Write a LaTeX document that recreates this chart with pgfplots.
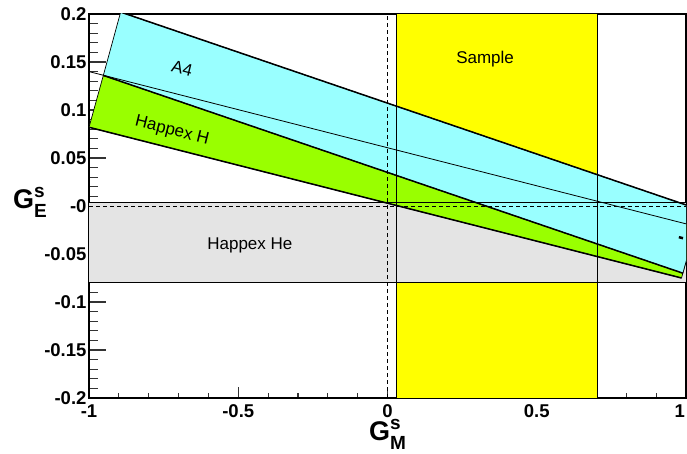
\documentclass[border=0pt]{standalone}
\usepackage{fontspec}
\setmainfont{Liberation Sans}
\usepackage{pgfplots}
\pgfplotsset{compat=1.18}

\definecolor{bandcyan}{RGB}{153,255,255}
\definecolor{bandgreen}{RGB}{153,255,0}
\definecolor{bandgray}{RGB}{228,228,228}
\definecolor{sampleyellow}{RGB}{255,255,0}

\begin{document}
\begin{tikzpicture}
\path[use as bounding box] (-89pt,-56pt) rectangle (598pt,398pt);
\begin{axis}[
  at={(0,0)}, anchor=south west,
  scale only axis, width=597pt, height=384pt,
  xmin=-1, xmax=1, ymin=-0.2, ymax=0.2,
  axis line style={line width=1.3pt},
  xtick={-1,-0.5,0,0.5,1},
  xticklabels={-1,-0.5,0,0.5,\makebox[0pt][r]{1\hspace{1pt}}},
  ytick={-0.2,-0.15,-0.1,-0.05,0,0.05,0.1,0.15,0.2},
  yticklabels={-0.2,-0.15,-0.1,-0.05,-0,0.05,0.1,0.15,0.2},
  minor x tick num=4, minor y tick num=4,
  tick align=inside, tick pos=left,
  major tick length=17pt, minor tick length=9pt,
  xtick style={/pgfplots/major tick length=11pt,/pgfplots/minor tick length=5pt},
  tick style={line width=1.1pt, black!80},
  ticklabel style={font=\fontsize{18.5}{18.5}\selectfont\bfseries},
  xticklabel style={yshift=-3pt},
  yticklabel style={xshift=1pt},
  clip=true,
]
% Sample region
\addplot[fill=sampleyellow, draw=none] coordinates {(0.03,-0.2) (0.705,-0.2) (0.705,0.2) (0.03,0.2)} -- cycle;
% Happex He band
\addplot[fill=bandgray, draw=none] coordinates {(-1,-0.080) (1,-0.080) (1,0.0035) (-1,0.0035)} -- cycle;
% Happex H band
\addplot[fill=bandgreen, draw=black, line width=0.7pt] coordinates {(-1.0,0.082) (-0.952,0.136) (1.0325,-0.021) (0.985,-0.075)} -- cycle;
% A4 band
\addplot[fill=bandcyan, draw=black, line width=0.7pt] coordinates {(-0.952,0.136) (-0.894,0.202) (1.048,-0.004) (0.9895,-0.070)} -- cycle;
% band edges
\addplot[black, line width=1.5pt] coordinates {(-0.894,0.202) (1.048,-0.004)};
\addplot[black, line width=1.5pt] coordinates {(-0.952,0.136) (0.9895,-0.070)};
\addplot[black, line width=1.5pt] coordinates {(-1.0,0.082) (0.985,-0.075)};
\addplot[black, line width=0.8pt] coordinates {(-1,0.1400) (1,-0.0186)};
% Happex He edges
\addplot[black, line width=1.1pt] coordinates {(-1,0.0035) (1,0.0035)};
\addplot[black, line width=1.1pt] coordinates {(-1,-0.080) (1,-0.080)};
% Sample edges
\addplot[black, line width=1.1pt] coordinates {(0.03,-0.2) (0.03,0.2)};
\addplot[black, line width=1.1pt] coordinates {(0.705,-0.2) (0.705,0.2)};
% zero lines
\addplot[black, line width=0.9pt, dash pattern=on 4pt off 3pt] coordinates {(-1,0) (1,0)};
\addplot[black, line width=0.9pt, dash pattern=on 4pt off 3pt] coordinates {(0,-0.2) (0,0.2)};
% small marker
\addplot[black, line width=2.5pt] coordinates {(0.976,-0.0325) (0.99,-0.0335)};
% labels
\node[rotate=-14, font=\fontsize{17}{17}\selectfont] at (axis cs:-0.688,0.143) {A4};
\node[rotate=-14, font=\fontsize{17}{17}\selectfont] at (axis cs:-0.722,0.078) {Happex H};
\node[font=\fontsize{17}{17}\selectfont] at (axis cs:-0.461,-0.041) {Happex He};
\node[font=\fontsize{17}{17}\selectfont] at (axis cs:0.327,0.153) {Sample};
\end{axis}
% axis titles
\node[font=\fontsize{27}{27}\selectfont\bfseries, anchor=base west, inner sep=0pt] at (-76pt,189pt)
  {G\rlap{\raisebox{11pt}{\fontsize{19}{19}\selectfont s}}\raisebox{-9pt}{\fontsize{19}{19}\selectfont E}};
\node[font=\fontsize{27}{27}\selectfont\bfseries, anchor=base west, inner sep=0pt] at (280pt,-43pt)
  {G\rlap{\raisebox{11pt}{\fontsize{19}{19}\selectfont s}}\raisebox{-9pt}{\fontsize{19}{19}\selectfont M}};
\end{tikzpicture}
\end{document}
